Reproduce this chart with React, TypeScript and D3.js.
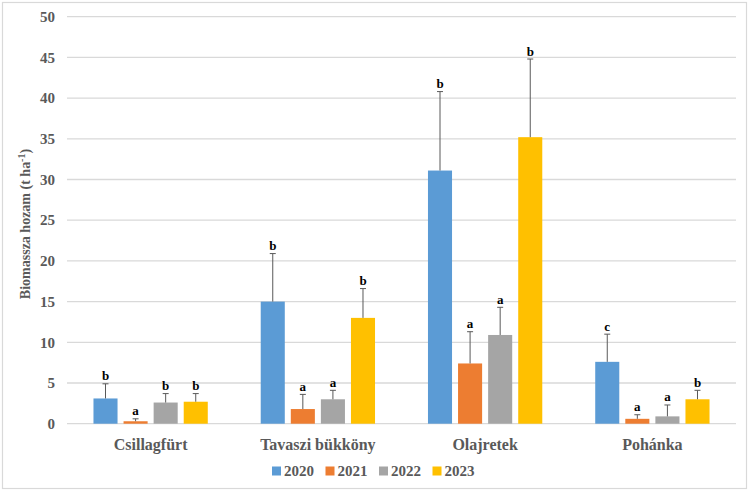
import React from "react";
import * as d3 from "d3";

const categories = ["Csillagfürt", "Tavaszi bükköny", "Olajretek", "Pohánka"];
const years = ["2020", "2021", "2022", "2023"];
const means2020 = [3.1, 15.0, 31.1, 7.6];
const means2021 = [0.3, 1.8, 7.4, 0.6];
const means2022 = [2.6, 3.0, 10.9, 0.9];
const means2023 = [2.7, 13.0, 35.2, 3.0];
const err2020 = [1.8, 5.9, 9.7, 3.4];
const err2021 = [0.3, 1.8, 3.9, 0.5];
const err2022 = [1.1, 1.1, 3.4, 1.4];
const err2023 = [1.0, 3.6, 9.6, 1.1];
const letters2020 = ["b", "b", "b", "c"];
const letters2021 = ["a", "a", "a", "a"];
const letters2022 = ["b", "a", "a", "a"];
const letters2023 = ["b", "b", "b", "b"];
const yTicks = [0, 5, 10, 15, 20, 25, 30, 35, 40, 45, 50];
const colors = ["#5b9bd5", "#ed7d31", "#a5a5a5", "#ffc000"];

const means = [means2020, means2021, means2022, means2023];
const errs = [err2020, err2021, err2022, err2023];
const letters = [letters2020, letters2021, letters2022, letters2023];

export default function App() {
  const W = 750, H = 493;
  const left = 67, right = 736, top = 16.7, bottom = 423.7;
  const font = "'Liberation Serif', 'Times New Roman', serif";
  const y = d3.scaleLinear().domain([0, 50]).range([bottom, top]);
  const x0 = d3.scaleBand<string>().domain(categories).range([left, right]).padding(0);
  const x1 = d3.scaleBand<string>().domain(years).range([0, x0.bandwidth()])
    .paddingInner(0.2).paddingOuter(0.88);
  const legendX = d3.scaleBand<string>().domain(years).range([272, 486]);

  return (
    <svg width={W} height={H} style={{ position: "absolute", left: 0, top: 0, background: "#fff" }}>
      <rect x={2.5} y={2.5} width={744} height={486} fill="#fff" stroke="#d9d9d9" strokeWidth={1.2} />
      {yTicks.map((t) => (
        <g key={t}>
          <line x1={left} x2={right} y1={y(t)} y2={y(t)} stroke="#d9d9d9" strokeWidth={1.3} />
          <text x={55} y={y(t)} dy="0.35em" textAnchor="end" fontFamily={font} fontWeight="bold"
            fontSize={15} fill="#595959">{t}</text>
        </g>
      ))}
      {categories.map((c, ci) => (
        <g key={c}>
          {years.map((yr, yi) => {
            const bx = (x0(c) as number) + (x1(yr) as number);
            const bw = x1.bandwidth();
            const v = means[yi][ci];
            const e = errs[yi][ci];
            const cx = bx + bw / 2;
            return (
              <g key={yr}>
                <rect x={bx} y={y(v)} width={bw} height={y(0) - y(v)} fill={colors[yi]} />
                <line x1={cx} x2={cx} y1={y(v)} y2={y(v + e)} stroke="#595959" strokeWidth={1} />
                <line x1={cx - 3} x2={cx + 3} y1={y(v + e)} y2={y(v + e)} stroke="#595959" strokeWidth={1} />
                <text x={cx} y={y(v + e) - 3.5} textAnchor="middle" fontFamily={font} fontWeight="bold"
                  fontSize={13} fill="#000">{letters[yi][ci]}</text>
              </g>
            );
          })}
          <text x={(x0(c) as number) + x0.bandwidth() / 2} y={444} dy="0.35em" textAnchor="middle"
            fontFamily={font} fontWeight="bold" fontSize={16} fill="#595959">{c}</text>
        </g>
      ))}
      <text transform={`translate(25,224) rotate(-90)`} textAnchor="middle" dy="0.35em" fontFamily={font}
        fontWeight="bold" fontSize={14} fill="#595959">
        Biomassza hozam (t ha<tspan dy="-5" fontSize={10}>-1</tspan><tspan dy="5">)</tspan>
      </text>
      {years.map((yr, yi) => {
        const lx = legendX(yr) as number;
        return (
          <g key={yr}>
            <rect x={lx} y={466.5} width={9} height={9} fill={colors[yi]} />
            <text x={lx + 12} y={471} dy="0.35em" fontFamily={font} fontWeight="bold" fontSize={15}
              fill="#595959">{yr}</text>
          </g>
        );
      })}
    </svg>
  );
}
